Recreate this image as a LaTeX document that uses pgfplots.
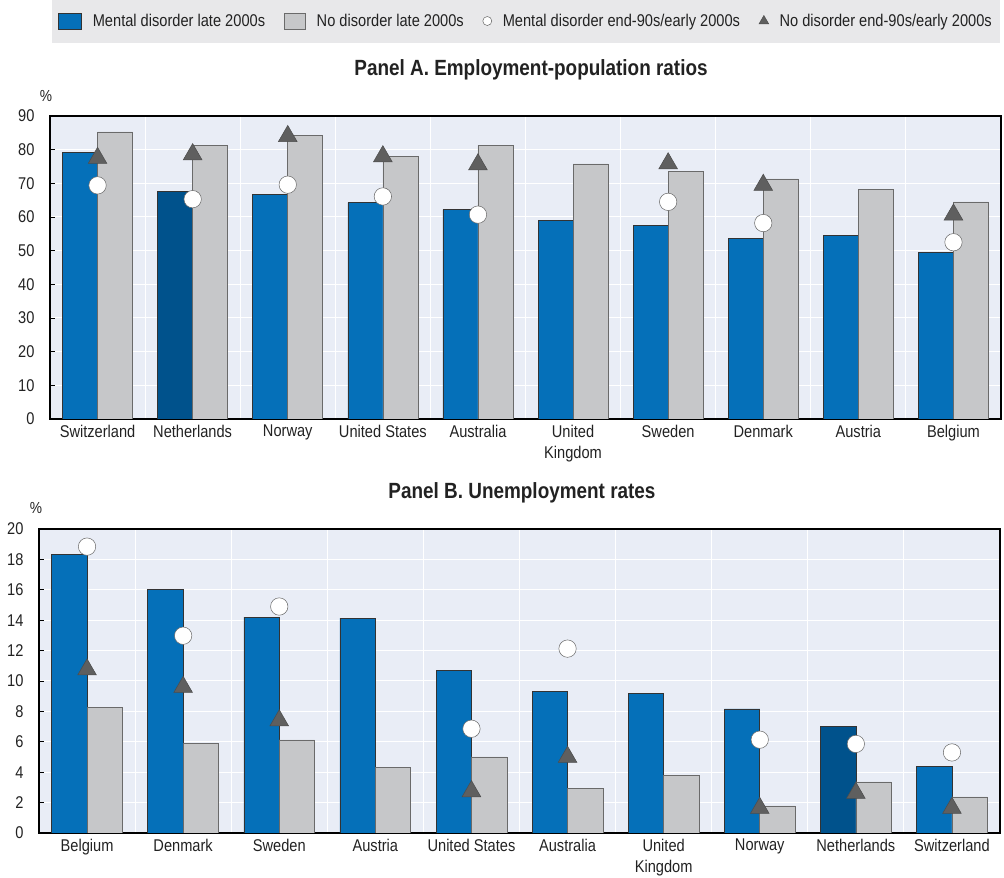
\documentclass[border=0pt]{standalone}
\usepackage{fontspec}
\setmainfont{Liberation Sans}[FakeStretch=0.86]
\usepackage{pgfplots}
\pgfplotsset{compat=1.18}
\definecolor{mblue}{HTML}{0570B9}
\definecolor{dblue}{HTML}{00528C}
\definecolor{gbar}{HTML}{C6C7C9}
\definecolor{gedge}{HTML}{6A6A6A}
\definecolor{tri}{HTML}{5F5F5F}
\definecolor{bgblue}{HTML}{E9EDF6}
\definecolor{leggray}{HTML}{E8E8EA}
\definecolor{txt}{HTML}{222222}
\pgfplotsset{
  oecd/.style={
    scale only axis,
    xmin=-0.5, xmax=9.5,
    xtick={0,...,9},
    minor xtick={0.5,1.5,...,8.5},
    xminorgrids=true,
    minor x grid style={white, line width=1pt},
    ymajorgrids=true,
    major y grid style={white, line width=1pt},
    axis background/.style={fill=bgblue},
    axis line style={black, line width=1.5pt},
    major x tick style={draw=none},
    minor x tick style={draw=none},
    ytick pos=left,
    major y tick style={black, line width=0.8pt},
    tick align=inside,
    major tick length=5pt,
    xticklabel style={align=center, anchor=north, inner sep=2pt, yshift=-4pt, text=txt},
    yticklabel style={xshift=-12pt, text=txt},
    /pgf/number format/assume math mode=true,
  },
  bluebar/.style={ybar, bar width=0.368, bar shift=-0.184, fill=mblue, draw=black!80, line width=0.6pt},
  dbluebar/.style={ybar, bar width=0.368, bar shift=-0.184, fill=dblue, draw=black!80, line width=0.6pt},
  greybar/.style={ybar, bar width=0.368, bar shift=0.184, fill=gbar, draw=gedge, line width=0.6pt},
  circ/.style={only marks, mark=*, mark size=8.7pt, mark options={fill=white, draw=gray!80!black, line width=0.5pt}},
  triang/.style={only marks, mark=triangle*, mark size=10.8pt, mark options={fill=tri, draw=black!70, line width=0.5pt}},
  bluelegend/.style={legend image code/.code={\draw[fill=mblue,draw=black!80,line width=0.6pt] (0pt,-8pt) rectangle (23pt,8pt);}},
  greylegend/.style={legend image code/.code={\draw[fill=gbar,draw=gedge,line width=0.6pt] (0pt,-8pt) rectangle (21pt,8pt);}},
  circlegend/.style={legend image code/.code={\draw[mark=*, mark size=4.5pt, mark options={fill=white, draw=gray!80!black, line width=0.5pt}] plot coordinates {(5pt,0pt)};}},
  trilegend/.style={legend image code/.code={\draw[mark=triangle*, mark size=5.5pt, mark options={fill=tri, draw=black!70, line width=0.5pt}] plot coordinates {(5pt,0pt)};}},
}
\begin{document}
\begin{tikzpicture}[font=\fontsize{17}{21}\selectfont, x=1pt, y=1pt]
\useasboundingbox (0,0) rectangle (1004,878);
\fill[leggray] (52,835) rectangle (1000,878);
% Panel A
\begin{axis}[oecd,
  at={(50pt,459pt)}, anchor=south west,
  width=951pt, height=303pt,
  ymin=0, ymax=90, ytick={0,10,...,90},
  xticklabels={Switzerland,Netherlands,Norway,United States,Australia,{United\\Kingdom},Sweden,Denmark,Austria,Belgium},
  legend columns=4,
  legend style={at={(0.5005,1.3135)}, anchor=center, draw=none, fill=none,
    inner xsep=2pt, inner ysep=2pt, text=txt,
    /tikz/every even column/.append style={column sep=17pt},
    /tikz/every odd column/.append style={column sep=9pt},
    cells={anchor=west}},
]
\addplot[bluebar, bluelegend]
  coordinates {(0,79.1) (2,66.7) (3,64.3) (4,62.2) (5,59.1) (6,57.5) (7,53.6) (8,54.5) (9,49.6)};
\addlegendentry{Mental disorder late 2000s}
\addplot[dbluebar, forget plot] coordinates {(1,67.6)};
\addplot[greybar, greylegend]
  coordinates {(0,85.3) (1,81.3) (2,84.3) (3,77.9) (4,81.3) (5,75.8) (6,73.5) (7,71.3) (8,68.1) (9,64.5)};
\addlegendentry{No disorder late 2000s}
\addplot[circ, circlegend]
  coordinates {(0,69.4) (1,65.3) (2,69.6) (3,66.1) (4,60.7) (6,64.5) (7,58.2) (9,52.5)};
\addlegendentry{Mental disorder end-90s/early 2000s}
\addplot[triang, trilegend]
  coordinates {(0,77.5) (1,78.6) (2,84.0) (3,78.0) (4,75.6) (6,75.9) (7,69.5) (9,60.7)};
\addlegendentry{No disorder end-90s/early 2000s}
\end{axis}
% Panel B
\begin{axis}[oecd,
  at={(39pt,45pt)}, anchor=south west,
  width=961pt, height=304pt,
  ymin=0, ymax=20, ytick={0,2,...,20},
  xticklabels={Belgium,Denmark,Sweden,Austria,United States,Australia,{United\\Kingdom},Norway,Netherlands,Switzerland},
]
\addplot[bluebar] coordinates {(0,18.33) (1,16.0) (2,14.2) (3,14.14) (4,10.68) (5,9.34) (6,9.17) (7,8.16) (9,4.36)};
\addplot[dbluebar] coordinates {(8,7.04)};
\addplot[greybar] coordinates {(0,8.27) (1,5.92) (2,6.12) (3,4.34) (4,5.0) (5,2.96) (6,3.77) (7,1.78) (8,3.36) (9,2.37)};
\addplot[circ] coordinates {(0,18.84) (1,12.98) (2,14.9) (4,6.86) (5,12.13) (7,6.14) (8,5.86) (9,5.3)};
\addplot[triang] coordinates {(0,10.75) (1,9.6) (2,7.4) (4,2.74) (5,5.0) (7,1.64) (8,2.63) (9,1.64)};
\end{axis}
% titles and units
\node[font=\fontsize{22}{26}\selectfont\bfseries, text=txt] at (531,808) {Panel A. Employment-population ratios};
\node[font=\fontsize{22}{26}\selectfont\bfseries, text=txt] at (522,385) {Panel B. Unemployment rates};
\node[text=txt, font=\fontsize{16}{18}\selectfont] at (46,782) {\%};
\node[text=txt, font=\fontsize{16}{18}\selectfont] at (36,370) {\%};
\end{tikzpicture}
\end{document}
